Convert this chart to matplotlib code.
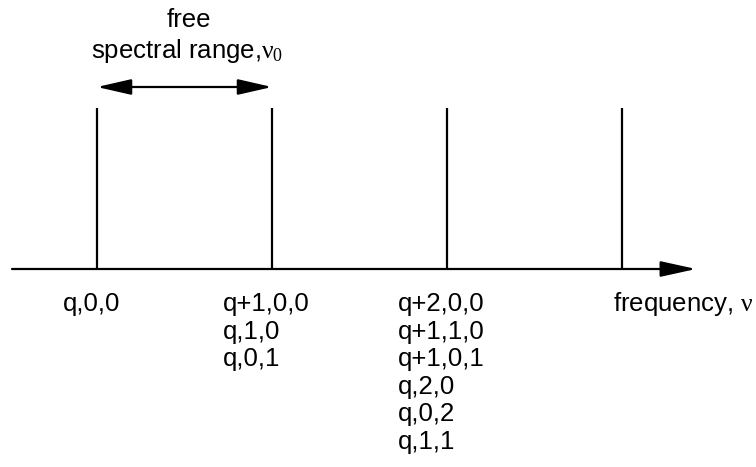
import matplotlib
matplotlib.use("Agg")
import matplotlib.pyplot as plt

plt.rcParams['font.family'] = ['Liberation Sans', 'DejaVu Sans']
plt.rcParams['mathtext.fontset'] = 'custom'
plt.rcParams['mathtext.rm'] = 'Liberation Serif'
plt.rcParams['mathtext.it'] = 'Liberation Serif'

# mode frequencies in units of the free spectral range
peaks = [0, 1, 2, 3]
peak_heights = [1, 1, 1, 1]
mode_labels = [
    ["q,0,0"],
    ["q+1,0,0", "q,1,0", "q,0,1"],
    ["q+2,0,0", "q+1,1,0", "q+1,0,1", "q,2,0", "q,0,2", "q,1,1"],
    [],
]
axis_label = "frequency, $\\nu$"
fsr_label_top = "free"
fsr_label = "spectral range,$\\nu_0$"

W, H, DPI = 756, 467, 100
fig = plt.figure(figsize=(W / DPI, H / DPI), dpi=DPI)
ax = fig.add_axes([0, 0, 1, 1])
px_per_x = 175.0
px_per_y = 161.0
x0_px, y0_px = 97.0, 269.0
ax.set_xlim(-x0_px / px_per_x, (W - x0_px) / px_per_x)
ax.set_ylim(-(H - y0_px) / px_per_y, y0_px / px_per_y)
ax.axis('off')

def px(dx):
    return dx / px_per_x

def py(dy):
    return dy / px_per_y

# frequency axis with arrow
ax.annotate("", xy=(px(696 - x0_px), 0), xytext=(px(12 - x0_px), 0),
            arrowprops=dict(arrowstyle="-|>,head_length=1.45,head_width=0.32",
                            lw=1.6, color="black", shrinkA=0, shrinkB=0,
                            mutation_scale=15))

# mode lines
for p, h in zip(peaks, peak_heights):
    ax.plot([p, p], [0, h], color="black", lw=1.6, solid_capstyle="butt")

# labels
fs = 18.5
for p, labs in zip(peaks, mode_labels):
    if not labs:
        continue
    if len(labs) == 1:
        ax.text(p - px(5), -py(311 - y0_px), labs[0], fontsize=fs,
                ha="center", va="baseline", color="black")
        continue
    for i, lab in enumerate(labs):
        ax.text(p - px(49), -py(311 - y0_px + 27.6 * i), lab, fontsize=fs,
                ha="left", va="baseline", color="black")

ax.text(px(613 - x0_px), -py(311 - y0_px), axis_label, fontsize=fs, ha="left",
        va="baseline", color="black")

# free spectral range arrow
ax.annotate("", xy=(peaks[1], py(y0_px - 87)), xytext=(peaks[0], py(y0_px - 87)),
            arrowprops=dict(arrowstyle="<|-|>,head_length=1.4,head_width=0.32",
                            lw=1.6, color="black", shrinkA=0, shrinkB=0,
                            mutation_scale=15))
ax.text(px(189 - x0_px), py(y0_px - 27), fsr_label_top, fontsize=fs,
        ha="center", va="baseline", color="black")
ax.text(px(187 - x0_px), py(y0_px - 58), fsr_label, fontsize=fs,
        ha="center", va="baseline", color="black")

fig.savefig("out.png", dpi=DPI, facecolor="white")
